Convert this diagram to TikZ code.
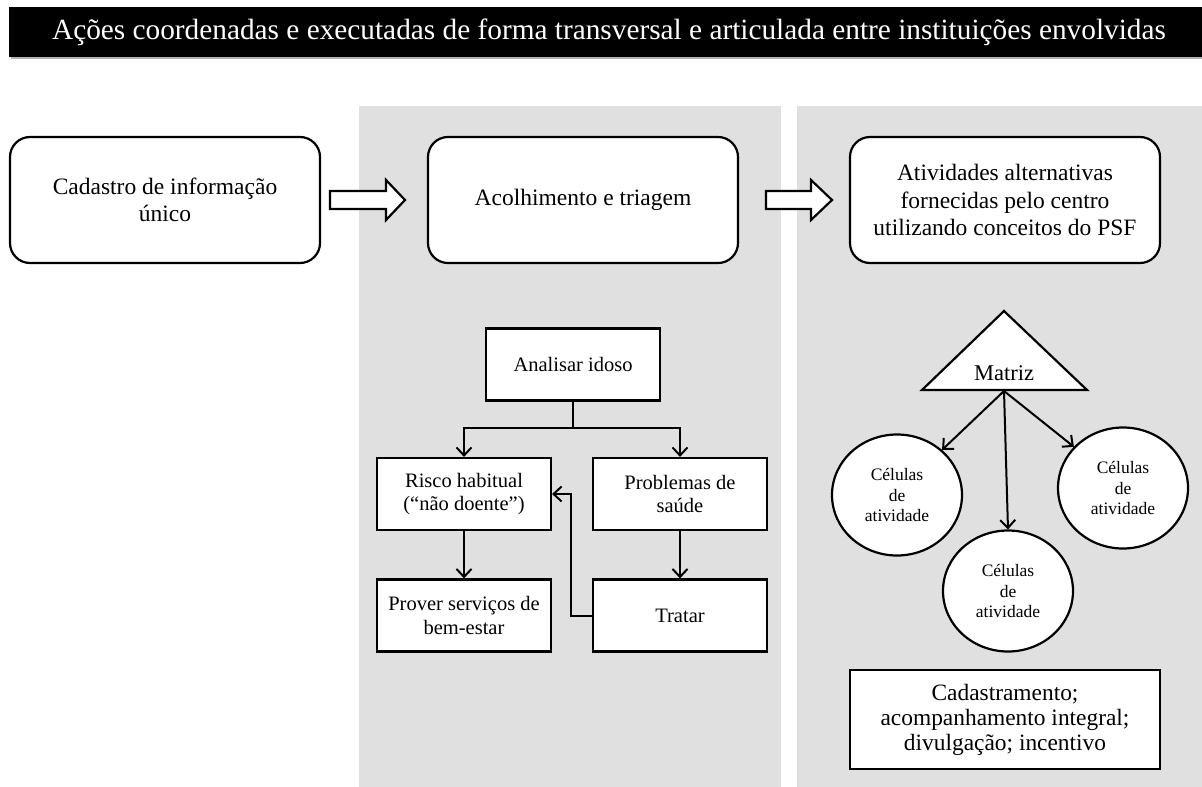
\documentclass[tikz,border=0pt]{standalone}
\usepackage{fontspec}
\setmainfont{Liberation Serif}
\usetikzlibrary{arrows.meta,shapes.geometric,calc}
\definecolor{panelgray}{RGB}{224,224,224}
\begin{document}
\begin{tikzpicture}[x=1pt,y=-1pt,
  bigbox/.style={draw,line width=2.2pt,rounded corners=20pt,fill=white,minimum width=310pt,minimum height=126pt,align=center,font=\fontsize{23.5}{27.5}\selectfont,inner sep=0pt},
  flowbox/.style={draw,line width=2.2pt,fill=white,minimum width=174pt,minimum height=72pt,align=center,font=\fontsize{20.5}{23.5}\selectfont,inner sep=0pt},
  cell/.style={draw,line width=2.2pt,fill=white,ellipse,minimum width=130pt,minimum height=121pt,align=center,font=\fontsize{17.5}{20.7}\selectfont,inner sep=0pt},
  conn/.style={line width=2pt,-{Straight Barb[length=8pt,width=15pt,line width=2pt]}},
  blockarrow/.style={draw,line width=2.2pt,fill=white,line join=miter}
]
\useasboundingbox (0,0) rectangle (1202,787);
\fill[white] (0,0) rectangle (1202,787);
% title bar
\fill[gray!60] (11,9) rectangle (1202,59);
\fill[black] (9,7) rectangle (1202,57);
\node[text=white,inner sep=0pt,font=\fontsize{29.3}{32}\selectfont] (title) at (609,32) {Ações coordenadas e executadas de forma transversal e articulada entre instituições envolvidas};
% panels
\fill[panelgray] (359,106) rectangle (781,787);
\fill[panelgray] (797,106) rectangle (1202,787);
% top boxes
\node[bigbox] (cad) at (165,200) {Cadastro de informação\\único};
\node[bigbox] (aco) at (583,200) {Acolhimento e triagem};
\node[bigbox] (ati) at (1005,200) {Atividades alternativas\\fornecidas pelo centro\\utilizando conceitos do PSF};
% block arrows
\draw[blockarrow] (330,191) -- (386,191) -- (386,180) -- (405,200) -- (386,220) -- (386,209) -- (330,209) -- cycle;
\draw[blockarrow] (766,191) -- (811,191) -- (811,180) -- (832,200) -- (811,220) -- (811,209) -- (766,209) -- cycle;
% left flowchart
\node[flowbox] (ana) at (573,364.5) {Analisar idoso};
\node[flowbox] (ris) at (464,494) {Risco habitual\\(“não doente”)};
\node[flowbox] (pro) at (680,494) {Problemas de\\saúde};
\node[flowbox] (prv) at (464,615.5) {Prover serviços de\\bem-estar};
\node[flowbox] (tra) at (680,615.5) {Tratar};
\coordinate (jn) at (573,428);
\draw[line width=2pt] (ana.south) -- (jn);
\draw[conn] (jn) -| (ris.north);
\draw[conn] (jn) -| (pro.north);
\draw[conn] (ris) -- (prv);
\draw[conn] (pro) -- (tra);
\draw[conn] (tra.west) -- ++(-21,0) |- (ris.east |- 0,494);
% right side
\coordinate (tapex) at (1004,311);
\coordinate (tleft) at (922,390);
\coordinate (tright) at (1087,390);
\draw[line width=2.2pt,fill=white,line join=miter] (tapex) -- (tleft) -- (tright) -- cycle;
\node[font=\fontsize{22.5}{24}\selectfont] (mat) at (1004,373) {Matriz};
\node[cell] (c1) at (897,495) {Células\\de\\atividade};
\node[cell] (c2) at (1008,591) {Células\\de\\atividade};
\node[cell] (c3) at (1123,488) {Células\\de\\atividade};
\coordinate (mb) at (1004,391);
\draw[conn] (mb) -- (c1.45);
\draw[conn] (mb) -- (c2.north);
\draw[conn] (mb) -- (c3.140);
\node[draw,line width=2.2pt,fill=white,minimum width=310pt,minimum height=99pt,inner sep=0pt,align=center,font=\fontsize{23.4}{25}\selectfont] (cdm) at (1005,719.5) {Cadastramento;\\acompanhamento integral;\\divulgação; incentivo};
\end{tikzpicture}
\end{document}
